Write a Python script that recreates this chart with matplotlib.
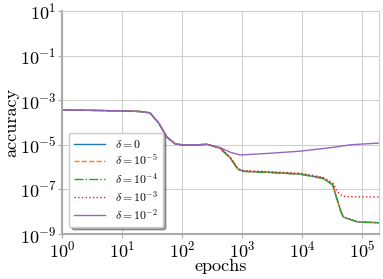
import matplotlib
matplotlib.use("Agg")
import matplotlib.pyplot as plt

plt.rcParams['font.family'] = 'serif'
plt.rcParams['font.serif'] = ['cmr10']
plt.rcParams['mathtext.fontset'] = 'cm'
plt.rcParams['axes.formatter.use_mathtext'] = True

# values
labels = [r'$\delta = 0$', r'$\delta = 10^{-5}$', r'$\delta = 10^{-4}$',
          r'$\delta = 10^{-3}$', r'$\delta = 10^{-2}$']

ep_low = [1, 3, 10, 20, 29, 40, 56, 76, 100, 180, 260, 430, 630, 850, 1050,
          3000, 9300, 22000, 32000, 35000, 43000, 48000, 83000, 190000]
acc_zero = [3.6e-4, 3.5e-4, 3.3e-4, 3.1e-4, 2.7e-4, 1e-4, 2.2e-5, 1.1e-5, 1e-5,
            1e-5, 1.05e-5, 7e-6, 2.6e-6, 8e-7, 6.5e-7,
            5.8e-7, 4.9e-7, 3.2e-7, 1.6e-7, 7e-8, 1.2e-8, 5.8e-9, 3.5e-9, 3.2e-9]
acc_1e5 = [3.6e-4, 3.5e-4, 3.3e-4, 3.1e-4, 2.7e-4, 1e-4, 2.2e-5, 1.1e-5, 1e-5,
           1e-5, 1.05e-5, 7e-6, 2.6e-6, 8e-7, 6.5e-7,
           5.8e-7, 4.9e-7, 3.2e-7, 1.6e-7, 7e-8, 1.2e-8, 5.8e-9, 3.6e-9, 3.3e-9]
acc_1e4 = [3.6e-4, 3.5e-4, 3.3e-4, 3.1e-4, 2.7e-4, 1e-4, 2.2e-5, 1.1e-5, 1e-5,
           1e-5, 1.05e-5, 7e-6, 2.6e-6, 8e-7, 6.4e-7,
           5.7e-7, 4.8e-7, 3.1e-7, 1.6e-7, 7e-8, 1.2e-8, 5.8e-9, 3.5e-9, 3.2e-9]

ep_1e3 = [1, 3, 10, 20, 29, 40, 56, 76, 100, 180, 260, 430, 630, 850, 1050,
          3000, 9300, 22000, 32000, 38000, 47000, 60000, 190000]
acc_1e3 = [3.6e-4, 3.5e-4, 3.3e-4, 3.1e-4, 2.7e-4, 1e-4, 2.2e-5, 1.1e-5, 1e-5,
           1e-5, 1.05e-5, 7e-6, 2.8e-6, 8.5e-7, 7e-7,
           6.2e-7, 5.3e-7, 3.5e-7, 2e-7, 8e-8, 5e-8, 4.7e-8, 4.6e-8]

ep_1e2 = [1, 3, 10, 20, 29, 40, 56, 76, 100, 180, 260, 430, 650, 930,
          3000, 9300, 30000, 63000, 190000]
acc_1e2 = [3.6e-4, 3.5e-4, 3.3e-4, 3.1e-4, 2.7e-4, 1e-4, 2.2e-5, 1.1e-5, 1e-5,
           1e-5, 1.05e-5, 7.5e-6, 4.5e-6, 3.5e-6,
           4.2e-6, 5.2e-6, 7.5e-6, 1e-5, 1.2e-5]

fig = plt.figure(figsize=(3.83, 2.79), dpi=100)
ax = fig.add_axes([0.162, 0.161, 0.828, 0.800])

ax.loglog(ep_low, acc_zero, color='tab:blue', lw=1.0, label=labels[0])
ax.loglog(ep_low, acc_1e5, color='tab:orange', lw=1.0, ls='--', label=labels[1])
ax.loglog(ep_low, acc_1e4, color='tab:green', lw=1.0, ls='-.', label=labels[2])
ax.loglog(ep_1e3, acc_1e3, color='tab:red', lw=1.0, ls=':', label=labels[3])
ax.loglog(ep_1e2, acc_1e2, color='tab:purple', lw=1.0, label=labels[4])

ax.set_xlim(1, 1.9e5)
ax.set_ylim(1e-9, 10)
ax.set_yticks([1e1, 1e-1, 1e-3, 1e-5, 1e-7, 1e-9])
ax.set_xticks([1e0, 1e1, 1e2, 1e3, 1e4, 1e5])
ax.minorticks_off()
ax.grid(True, color='#d0d0d0', lw=0.8)
ax.set_axisbelow(True)
ax.tick_params(labelsize=13, length=3, color='#aaaaaa', pad=1)

for s in ['left', 'bottom']:
    ax.spines[s].set_color('#aaaaaa')
    ax.spines[s].set_linewidth(1.5)
for s in ['top', 'right']:
    ax.spines[s].set_color('#d0d0d0')
    ax.spines[s].set_linewidth(0.8)

ax.set_xlabel('epochs', fontsize=13, labelpad=-1)
ax.set_ylabel('accuracy', fontsize=13, labelpad=0)

ax.legend(loc='lower left', fontsize=8.5, shadow=True, fancybox=True,
          handlelength=2.6, labelspacing=0.25, borderpad=0.45,
          borderaxespad=0.6)

plt.savefig('out.png', dpi=100)
